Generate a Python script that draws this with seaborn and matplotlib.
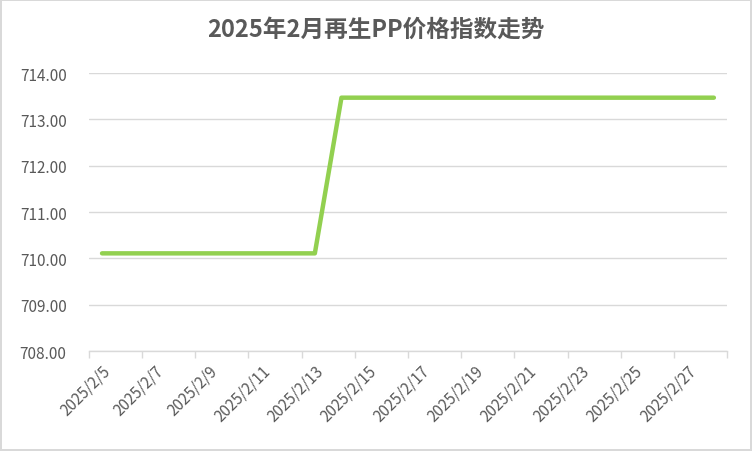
# 2025年2月 再生PP价格指数走势 라인 차트
import matplotlib.pyplot as plt
import pandas as pd
import seaborn as sns
from matplotlib.ticker import FixedLocator

dates = [f"2025/2/{d}" for d in range(5, 29)]
prices = [710.11] * 9 + [713.47] * 15
y_ticks = [708, 709, 710, 711, 712, 713, 714]

df = pd.DataFrame({"idx": range(len(dates)), "date": dates, "price": prices})

sns.set_theme(style="whitegrid")
plt.rcParams["font.family"] = ["Noto Sans CJK SC", "DejaVu Sans"]

fig, ax = plt.subplots(figsize=(7.52, 4.52), dpi=100)
fig.subplots_adjust(left=0.118, right=0.967, top=0.836, bottom=0.221)
fig.patch.set_edgecolor("#d9d9d9")
fig.patch.set_linewidth(1.5)

sns.lineplot(data=df, x="idx", y="price", color="#92d050", linewidth=3.2,
             solid_capstyle="round", solid_joinstyle="round", ax=ax)

ax.set_xlim(-0.5, len(dates) - 0.5)
ax.set_ylim(708, 714)
ax.set_yticks(y_ticks, [f"{v:.2f}" for v in y_ticks])

major = list(range(0, len(dates), 2))
ax.set_xticks(major, [dates[i] for i in major], rotation=45, ha="right",
              rotation_mode="anchor")
ax.xaxis.set_minor_locator(FixedLocator([i - 0.5 for i in range(0, len(dates) + 1, 2)]))
ax.tick_params(axis="x", which="major", length=0, pad=8, labelsize=11, colors="#595959")
ax.tick_params(axis="x", which="minor", length=5, width=1, color="#d9d9d9", bottom=True)
ax.tick_params(axis="y", length=0, labelsize=11, colors="#595959", pad=16)

ax.grid(axis="x", visible=False)
ax.grid(axis="y", color="#d9d9d9", linewidth=1)
sns.despine(ax=ax, top=True, right=True, left=True, bottom=False)
ax.spines["bottom"].set_color("#d9d9d9")
ax.spines["bottom"].set_linewidth(1)
ax.set_xlabel("")
ax.set_ylabel("")

fig.suptitle("2025年2月再生PP价格指数走势", x=0.5, y=0.96, fontsize=17,
             fontweight="bold", color="#595959")

fig.savefig("out.png", dpi=100, edgecolor=fig.get_edgecolor())
